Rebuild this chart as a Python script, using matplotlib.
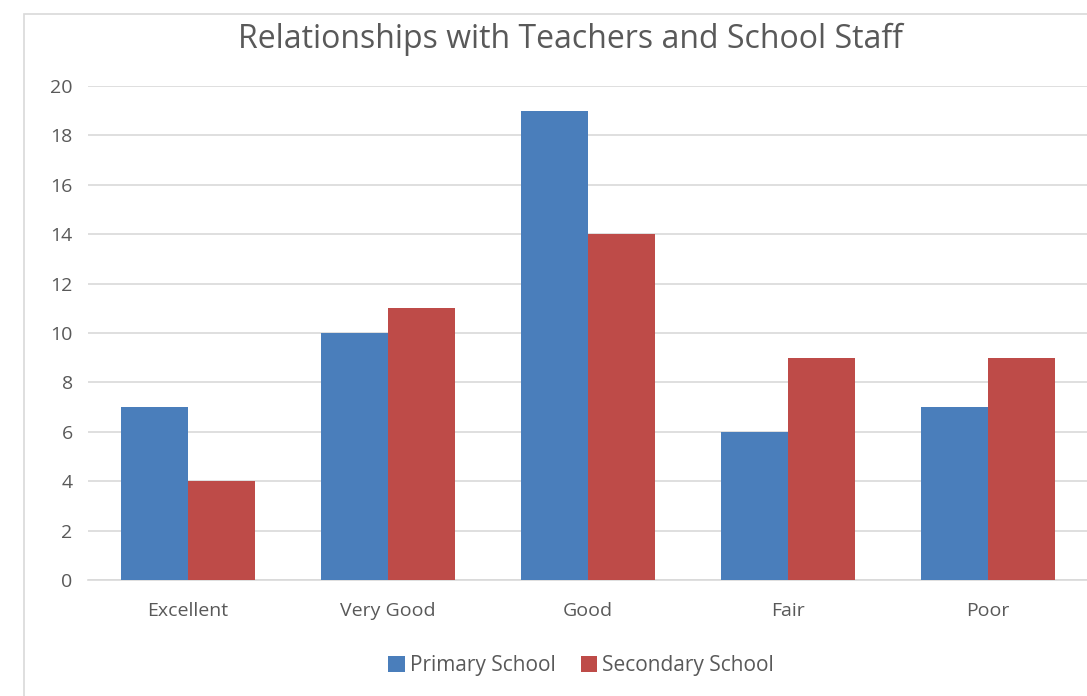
import matplotlib
matplotlib.use("Agg")
import matplotlib.pyplot as plt
from matplotlib.patches import Rectangle
import numpy as np

categories = ["Excellent", "Very Good", "Good", "Fair", "Poor"]
primary = [7, 10, 19, 6, 7]
secondary = [4, 11, 14, 9, 9]
series_names = ["Primary School", "Secondary School"]
yticks = [0, 2, 4, 6, 8, 10, 12, 14, 16, 18, 20]

blue = "#4a7ebb"
red = "#be4b48"
txt = "#595959"

plt.rcParams["font.family"] = ["Open Sans", "DejaVu Sans"]

fig = plt.figure(figsize=(10.87, 6.96), dpi=100)
ax = fig.add_axes([88 / 1087, 1 - 580 / 696, 1000 / 1087, (580 - 86) / 696])

# chart frame (cut off on right and bottom like the reference)
fig.patches.append(Rectangle((24 / 1087, -0.1), 2, 1 - 14 / 696 + 0.1,
                             transform=fig.transFigure, fill=False,
                             edgecolor="#d9d9d9", linewidth=1.2))

x = np.arange(len(categories))
w = 0.335
ax.bar(x - w / 2, primary, w, color=blue, label=series_names[0], zorder=3)
ax.bar(x + w / 2, secondary, w, color=red, label=series_names[1], zorder=3)

ax.set_xlim(-0.5, len(categories) - 0.5)
ax.set_ylim(0, 20)
ax.set_yticks(yticks)
ax.set_xticks(x)
ax.set_xticklabels(categories)
ax.yaxis.grid(True, color="#d9d9d9", linewidth=1.2, zorder=0)
for s in ["top", "right", "left"]:
    ax.spines[s].set_visible(False)
ax.spines["bottom"].set_color("#d9d9d9")
ax.spines["bottom"].set_linewidth(1.2)
ax.tick_params(axis="both", length=0, colors=txt, labelsize=14)
ax.tick_params(axis="y", pad=11)
ax.tick_params(axis="x", pad=16)

fig.text(570 / 1087, 1 - 39 / 696, "Relationships with Teachers and School Staff",
         ha="center", va="center", fontsize=23, color=txt)

fig.legend(loc="center", bbox_to_anchor=(581 / 1087, 1 - 666 / 696), ncol=2,
           frameon=False, fontsize=15, labelcolor=txt, handlelength=0.8,
           handleheight=0.8, handletextpad=0.25, columnspacing=1.2)

fig.savefig("out.png", dpi=100, facecolor="white")
